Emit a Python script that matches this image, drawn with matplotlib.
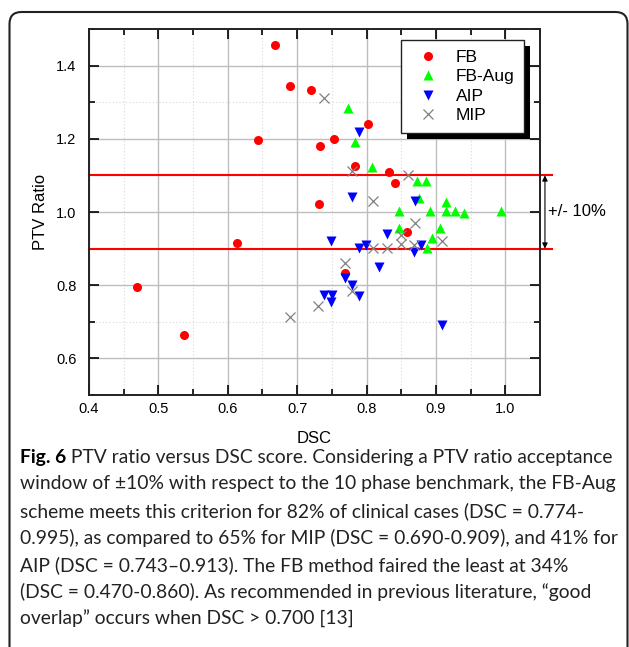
import matplotlib
matplotlib.use('Agg')
import matplotlib.pyplot as plt
from matplotlib.patches import FancyBboxPatch, Rectangle
from matplotlib.transforms import blended_transform_factory, IdentityTransform
from matplotlib.ticker import MultipleLocator
from matplotlib.lines import Line2D

# ---------------- data ----------------
fb_dsc = [0.668, 0.690, 0.720, 0.644, 0.733, 0.753, 0.802, 0.783, 0.832, 0.841,
          0.731, 0.858, 0.613, 0.469, 0.537, 0.769]
fb_ratio = [1.456, 1.345, 1.334, 1.198, 1.181, 1.200, 1.241, 1.127, 1.110, 1.078,
            1.023, 0.944, 0.914, 0.794, 0.663, 0.832]

aug_dsc = [0.773, 0.783, 0.808, 0.873, 0.886, 0.876, 0.847, 0.847, 0.914, 0.891,
           0.914, 0.927, 0.940, 0.994, 0.906, 0.894, 0.887]
aug_ratio = [1.285, 1.192, 1.124, 1.086, 1.086, 1.037, 1.004, 0.955, 1.026, 1.004,
             1.004, 1.004, 0.996, 1.004, 0.955, 0.929, 0.902]

aip_dsc = [0.789, 0.779, 0.870, 0.829, 0.749, 0.789, 0.799, 0.869, 0.879, 0.818,
           0.769, 0.779, 0.789, 0.739, 0.750, 0.749, 0.909]
aip_ratio = [1.219, 1.042, 1.031, 0.941, 0.920, 0.901, 0.909, 0.890, 0.909, 0.849,
             0.819, 0.800, 0.770, 0.772, 0.772, 0.753, 0.691]

mip_dsc = [0.739, 0.779, 0.860, 0.809, 0.870, 0.849, 0.849, 0.869, 0.809, 0.829,
           0.909, 0.769, 0.779, 0.730, 0.690]
mip_ratio = [1.312, 1.113, 1.102, 1.031, 0.971, 0.936, 0.912, 0.911, 0.902, 0.902,
             0.922, 0.860, 0.783, 0.743, 0.712]

series_names = ['FB', 'FB-Aug', 'AIP', 'MIP']
band_upper = 1.1
band_lower = 0.9
band_label = '+/- 10%'
x_label = 'DSC'
y_label = 'PTV Ratio'

caption_bold = 'Fig. 6'
caption_lines = [
    ' PTV ratio versus DSC score. Considering a PTV ratio acceptance',
    'window of \u00b110% with respect to the 10 phase benchmark, the FB-Aug',
    'scheme meets this criterion for 82% of clinical cases (DSC = 0.774-',
    '0.995), as compared to 65% for MIP (DSC = 0.690-0.909), and 41% for',
    'AIP (DSC = 0.743\u20130.913). The FB method faired the least at 34%',
    '(DSC = 0.470-0.860). As recommended in previous literature, \u201cgood',
    'overlap\u201d occurs when DSC > 0.700 [13]',
]

# ---------------- figure ----------------
W, H = 629, 647
fig = plt.figure(figsize=(W / 100, H / 100), dpi=100)
fig.patch.set_facecolor('white')
ax = fig.add_axes([89 / W, 1 - 395 / H, 451 / W, 366 / H])

AX_FONT = 'Liberation Sans'

ax.set_xlim(0.4, 1.05)
ax.set_ylim(0.5, 1.5)
ax.xaxis.set_major_locator(MultipleLocator(0.1))
ax.xaxis.set_minor_locator(MultipleLocator(0.05))
ax.yaxis.set_major_locator(MultipleLocator(0.2))
ax.yaxis.set_minor_locator(MultipleLocator(0.1))
ax.grid(which='major', color='#bdbdbd', lw=1.0, ls='-')
ax.grid(which='minor', color='#d8d8d8', lw=0.8, ls=(0, (1, 2)))
ax.set_axisbelow(True)
ax.tick_params(which='both', direction='in', top=True, right=True, width=1.2,
               labelsize=10.5)
ax.tick_params(axis='x', which='both', pad=5)
ax.tick_params(axis='y', which='both', pad=9)
ax.tick_params(which='major', length=7)
ax.tick_params(which='minor', length=4)
ax.set_xticks([0.4, 0.5, 0.6, 0.7, 0.8, 0.9, 1.0])
ax.set_xticklabels(['0.4', '0.5', '0.6', '0.7', '0.8', '0.9', '1.0'])
for lab in ax.get_xticklabels() + ax.get_yticklabels():
    lab.set_fontfamily(AX_FONT)
for s in ax.spines.values():
    s.set_linewidth(1.4)
    s.set_color('#222222')

ax.set_xlabel(x_label, fontsize=12, fontfamily=AX_FONT, labelpad=11)
ax.set_ylabel(y_label, fontsize=12, fontfamily=AX_FONT, labelpad=6)

ms = 6.5
ax.plot(fb_dsc, fb_ratio, 'o', color='#ff0000', ms=ms, mec='none', zorder=3)
ax.plot(aug_dsc, aug_ratio, '^', color='#00ff00', ms=7.5, mec='none', zorder=3)
ax.plot(aip_dsc, aip_ratio, 'v', color='#0000ff', ms=7.5, mec='none', zorder=3)
ax.plot(mip_dsc, mip_ratio, 'x', color='#808080', ms=7, mew=0.9, zorder=3)

trans = blended_transform_factory(ax.transAxes, ax.transData)
for yv in (band_upper, band_lower):
    ax.plot([0, 1.027], [yv, yv], transform=trans, color='#ff0000', lw=1.5,
            clip_on=False, zorder=2.5)
ax.annotate('', xy=(1.011, band_upper), xytext=(1.011, band_lower),
            xycoords=trans, textcoords=trans, annotation_clip=False,
            arrowprops=dict(arrowstyle='<|-|>', color='black', lw=0.8,
                            mutation_scale=8, shrinkA=0, shrinkB=0))
ax.text(1.018, (band_upper + band_lower) / 2, band_label, transform=trans,
        ha='left', va='center', fontsize=12, fontfamily=AX_FONT)

handles = [
    Line2D([], [], ls='none', marker='o', color='#ff0000', ms=ms, mec='none'),
    Line2D([], [], ls='none', marker='^', color='#00ff00', ms=7.5, mec='none'),
    Line2D([], [], ls='none', marker='v', color='#0000ff', ms=7.5, mec='none'),
    Line2D([], [], ls='none', marker='x', color='#808080', ms=7, mew=0.9),
]
leg = ax.legend(handles, series_names, loc='upper right',
                bbox_to_anchor=(0.965, 0.970), frameon=True, fancybox=False,
                framealpha=1.0, facecolor='white', edgecolor='#222222',
                prop={'family': AX_FONT, 'size': 12.5}, labelspacing=0.25,
                borderpad=0.55, handletextpad=0.6, handlelength=2.0,
                borderaxespad=0)
leg.get_frame().set_linewidth(1.0)
leg.set_zorder(6)

# ---------------- caption ----------------
CAP_FONT = 'Lato'
fig.canvas.draw()
renderer = fig.canvas.get_renderer()

# legend shadow
bb = leg.get_frame().get_window_extent(renderer)
shadow = Rectangle((bb.x0 + 6, bb.y0 - 6), bb.width, bb.height,
                   transform=IdentityTransform(), facecolor='black',
                   edgecolor='none', zorder=5.9, clip_on=False)
ax.add_artist(shadow)

probe = fig.text(0, 0, caption_lines[1], fontsize=10, fontfamily=CAP_FONT)
w10 = probe.get_window_extent(renderer).width
probe.remove()
cap_size = 10 * 597 / w10

x0 = 20
y_first = 457
dy = 27
tb = fig.text(x0 / W, 1 - y_first / H, caption_bold, fontsize=cap_size,
              fontfamily=CAP_FONT, fontweight='bold', va='center', ha='left')
bw = tb.get_window_extent(renderer).width
for i, line in enumerate(caption_lines):
    xx = x0 + (bw if i == 0 else 0)
    fig.text(xx / W, 1 - (y_first + i * dy) / H, line, fontsize=cap_size,
             fontfamily=CAP_FONT, va='center', ha='left', color='#222222')

# rounded outer border
border = FancyBboxPatch((9.5, -40), 618, H - 12 + 40,
                        boxstyle='round,pad=0,rounding_size=12',
                        transform=IdentityTransform(), facecolor='none',
                        edgecolor='#222222', lw=1.5)
fig.patches.append(border)

fig.savefig('out.png', dpi=100, facecolor='white')
